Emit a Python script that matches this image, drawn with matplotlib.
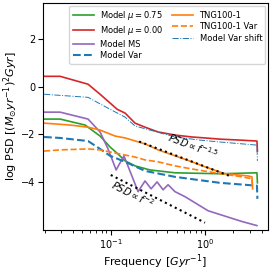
import numpy as np
import matplotlib
matplotlib.use('Agg')
import matplotlib.pyplot as plt

# power spectra (frequency in Gyr^-1, log PSD)
f_mu075 = [0.0196, 0.029, 0.0534, 0.077, 0.0984, 0.119, 0.142, 0.181, 0.261, 0.481, 1.44, 3.56, 3.60]
p_mu075 = [-1.36, -1.36, -1.61, -2.07, -2.53, -2.82, -3.11, -3.32, -3.49, -3.61, -3.65, -3.61, -4.03]

f_mu000 = [0.0196, 0.029, 0.0574, 0.077, 0.117, 0.142, 0.181, 0.231, 0.318, 0.481, 0.728, 1.0, 1.44, 2.35, 3.56, 3.60]
p_mu000 = [0.43, 0.43, 0.10, -0.32, -0.95, -1.11, -1.53, -1.70, -1.90, -2.03, -2.11, -2.15, -2.20, -2.24, -2.28, -2.70]

f_ms = [0.0196, 0.029, 0.0574, 0.077, 0.0936, 0.114, 0.138, 0.195, 0.231, 0.268, 0.310, 0.359, 0.406, 0.481,
        0.614, 1.08, 2.47, 3.56]
p_ms = [-1.07, -1.07, -1.36, -1.90, -2.61, -3.49, -2.90, -4.40, -3.95, -4.28, -3.99, -4.32, -4.11, -4.40,
        -4.61, -5.20, -5.65, -5.82]

f_var = [0.0196, 0.029, 0.0574, 0.077, 0.0984, 0.142, 0.231, 0.481, 1.44, 3.56, 3.60]
p_var = [-2.11, -2.15, -2.28, -2.61, -2.90, -3.15, -3.53, -3.78, -4.03, -4.15, -4.70]

f_tng = [0.0196, 0.037, 0.0574, 0.077, 0.111, 0.142, 0.231, 0.318, 0.481, 0.728, 1.0, 1.63, 2.86, 3.15, 3.20]
p_tng = [-1.53, -1.61, -1.70, -1.82, -2.07, -2.15, -2.40, -2.65, -2.90, -3.15, -3.36, -3.65, -3.74, -3.78, -4.28]

f_tngvar = [0.0196, 0.029, 0.0574, 0.077, 0.111, 0.181, 0.231, 0.318, 0.481, 0.728, 1.28, 2.47, 3.15, 3.20]
p_tngvar = [-2.70, -2.65, -2.61, -2.65, -2.78, -2.95, -3.07, -3.15, -3.32, -3.45, -3.61, -3.78, -3.86, -4.28]

f_shift = [0.0196, 0.0574, 0.0984, 0.142, 0.181, 0.261, 0.481, 0.885, 1.44, 3.56, 3.60]
p_shift = [-0.32, -0.45, -0.95, -1.28, -1.65, -1.82, -2.11, -2.24, -2.32, -2.45, -3.11]

# reference power laws
f_slope2 = [0.1, 1.0]
p_slope2_start = -3.7
f_slope15 = [0.2, 1.9]
p_slope15_start = -2.3

fig = plt.figure(figsize=(2.74, 2.74), dpi=100)
ax = fig.add_axes([0.157, 0.161, 0.821, 0.828])

ax.plot(f_mu075, p_mu075, color='tab:green', lw=1.2, label=r'Model $\mu=0.75$')
ax.plot(f_mu000, p_mu000, color='tab:red', lw=1.2, label=r'Model $\mu=0.00$')
ax.plot(f_ms, p_ms, color='tab:purple', lw=1.2, label='Model MS')
ax.plot(f_var, p_var, color='tab:blue', lw=1.5, ls='--', label='Model Var')
ax.plot(f_tng, p_tng, color='tab:orange', lw=1.2, label='TNG100-1')
ax.plot(f_tngvar, p_tngvar, color='tab:orange', lw=1.2, ls='--', label='TNG100-1 Var')
ax.plot(f_shift, p_shift, color='tab:blue', lw=0.7, ls='-.', label='Model Var shift')

# dotted slopes
fs = np.array(f_slope2)
ax.plot(fs, p_slope2_start - 2 * np.log10(fs / fs[0]), color='k', ls=':', lw=1.5)
fs = np.array(f_slope15)
ax.plot(fs, p_slope15_start - 1.5 * np.log10(fs / fs[0]), color='k', ls=':', lw=1.5)

ax.text(0.172, -4.49, r'$PSD \propto f^{-2}$', rotation=-27, fontsize=7, ha='center', va='center')
ax.text(0.746, -2.49, r'$PSD \propto f^{-1.5}$', rotation=-21, fontsize=7, ha='center', va='center')

ax.set_xscale('log')
ax.set_xlim(0.0191, 4.66)
ax.set_ylim(-6.0, 3.5)
ax.set_yticks([-4, -2, 0, 2])
ax.tick_params(labelsize=7, pad=2)
ax.set_xlabel(r'Frequency [$Gyr^{-1}$]', fontsize=8, labelpad=1)
ax.set_ylabel(r'log PSD [$(M_{\odot}yr^{-1})^2Gyr$]', fontsize=8, labelpad=1)
ax.legend(loc='upper right', ncol=2, fontsize=6, handlelength=2.5, columnspacing=1.0,
          labelspacing=0.3, borderaxespad=0.3)

fig.savefig('out.png', dpi=100)
